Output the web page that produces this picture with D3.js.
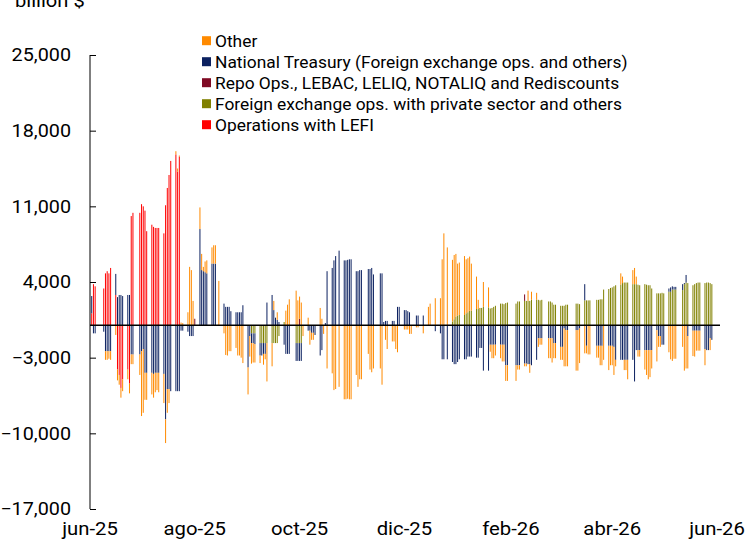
<!DOCTYPE html>
<html><head><meta charset="utf-8">
<script src="https://cdn.jsdelivr.net/npm/d3@7"></script>
<style>body{margin:0;background:#fff} svg{display:block} text{font-family:Roboto,"Liberation Sans",sans-serif;fill:#000}</style>
</head><body><svg id="c" width="749" height="544"></svg>
<script>
// ---- data ----
const seriesKeys = ["lefi","fx","repo","treasury","other"];
const seriesNames = ["Operations with LEFI","Foreign exchange ops. with private sector and others","Repo Ops., LEBAC, LELIQ, NOTALIQ and Rediscounts","National Treasury (Foreign exchange ops. and others)","Other"];
const seriesColors = ["#FF0000","#808000","#7F0A24","#0C2160","#FF8A00"];
const legendOrder = ["other","treasury","repo","fx","lefi"];
const yTicks = [25000,18000,11000,4000,-3000,-10000,-17000];
const xTickDates = ["2025-06-01","2025-08-01","2025-10-01","2025-12-01","2026-02-01","2026-04-01","2026-06-01"];
const xTickLabels = ["jun-25","ago-25","oct-25","dic-25","feb-26","abr-26","jun-26"];
const firstDay = "2025-06-02", lastDay = "2026-06-02"; // business days (Mon-Fri)

const lefi = [
1100,3800,3600,0,0,
3400,4800,5000,4800,5300,
2800,-4100,-4600,-5800,-5000,
-4100,-5400,10100,10400,0,
10400,11200,11000,10600,8700,
9300,9100,9000,9000,9000,
8500,11100,12700,13900,15200,
15800,14200,15600,0,0,
0,0,0,0,0, 0,0,0,0,0, 0,0,0,0,0, 0,0,0,0,0,
0,0,0,0,0, 0,0,0,0,0, 0,0,0,0,0, 0,0,0,0,0,
0,0,0,0,0, 0,0,0,0,0, 0,0,0,0,0, 0,0,0,0,0,
0,0,0,0,0, 0,0,0,0,0, 0,0,0,0,0, 0,0,0,0,0,
0,0,0,0,0, 0,0,0,0,0, 0,0,0,0,0, 0,0,0,0,0,
0,0,0,0,0, 0,0,0,0,0, 0,0,0,0,0, 0,0,0,0,0,
0,0,0,0,0, 0,0,0,0,0, 0,0,0,0,0, 0,0,0,0,0,
0,0,0,0,0, 0,0,0,0,0, 0,0,0,0,0, 0,0,0,0,0,
0,0,0,0,0, 0,0,0,0,0, 0,0,0,0,0, 0,0,0,0,0,
0,0,0,0,0, 0,0,0,0,0, 0,0,0,0,0, 0,0,0,0,0,
0,0,0,0,0, 0,0,0,0,0, 0,0,0,0,0, 0,0,0,0,0,
0,0];

const fx = [
0,0,0,0,0, 0,0,0,0,0, 0,0,0,0,0, 0,0,0,0,0,
0,0,0,0,0, 0,0,0,0,0, 0,0,0,0,0, 0,0,0,0,0,
0,0,0,0,0, 0,0,0,0,0, 0,0,0,0,0, 0,0,0,0,0,
0,0,0,0,0,
0,0,-750,-750,-750,
-1650,-1650,-1650,-1650,-1650,
-1650,-1650,-1650,-1650,-1000,
300,0,0,0,0,
-1650,-1650,-1650,-1650,0,
0,0,0,0,0, 0,0,0,0,0, 0,0,0,0,0, 0,0,0,0,0,
0,0,0,0,0, 0,0,0,0,0, 0,0,0,0,0, 0,0,0,0,0,
0,0,0,0,0, 0,0,0,0,0, 0,0,0,0,0, 0,0,0,0,0,
350,550,800,900,950,
950,1100,1200,1350,1350,
1500,1500,1600,1600,1700,
1650,1550,1600,1700,1800,
2000,2000,1950,2050,2100,
0,0,2000,2200,2200,
2250,2250,2250,2250,2350,
2350,2350,2300,2350,0,
2200,2200,2100,1900,1900,
1800,1800,1800,1900,1900,
0,0,2000,2000,1950,
2300,2300,2300,2300,0,
2350,2350,2400,2400,3300,
3350,3450,3500,3600,3700,
3750,3900,3950,3950,3950,
3800,3800,3800,3750,3700,
3800,3750,3700,3700,3400,
2950,2950,2950,3000,2950,
3100,3100,3300,3300,3300,
0,3250,3800,3950,3900,
3700,3800,3900,3950,3950,
3900,3950,3950,3900,3800,
0,0];

const repo = [
0,0,0,0,0, 0,0,0,0,0, 0,0,0,0,0, 0,0,0,0,0,
0,0,0,0,0, 0,0,0,0,0, 0,0,0,0,0, 0,0,0,0,0,
0,0,0,0,600,
0,0,0,0,0, 0,0,0,0,0, 0,0,0,0,0, 0,0,0,0,0,
0,0,0,0,0, 0,0,0,0,0, 0,0,0,0,0, 0,0,0,0,0,
0,0,600,0,0,
0,0,0,0,0, 0,0,0,0,0, 0,0,0,0,0, 0,0,0,0,0,
0,0,0,0,0, 0,0,0,0,0, 0,0,0,0,0, 0,0,0,0,0,
0,0,0,0,0, 0,0,0,0,0, 0,0,0,0,0, 0,0,0,0,0,
0,0,0,0,0, 0,0,0,0,0, 0,0,0,0,0, 0,0,0,0,0,
0,0,0,0,0, 0,0,0,0,0,
600,0,0,0,0,
0,0,0,0,0, 0,0,0,0,0, 0,0,0,0,0, 0,0,0,0,0,
0,0,0,0,0, 0,0,0,0,0, 0,0,0,0,0, 0,0,0,0,0,
0,0,0,0,0, 0,0,0,0,0, 0,0,0,0,0, 0,0,0,0,0,
0,0,0,0,0, 0,0,0,0,0, 0,0,0,0,0, 0,0,0,0,0,
0,550];

const treasury = [
1600,-750,-750,0,0,
-600,-2400,-2400,-2400,-2400,
1950,2600,2800,2800,2700,
2800,2800,-2700,-2700,0,
-2700,-2400,-2200,-4400,-4400,
-4400,-4500,-4400,-4400,-4400,
-4500,-8700,-5900,-5900,-6100,
-6100,-6100,-6100,-500,-500,
-600,-1000,-1000,-1000,0,
8900,5100,5000,4900,4800,
5700,5700,5700,0,0,
2000,1700,1700,1700,1300,
1200,1200,1200,1200,1850,
-3900,-1000,-900,-900,-1000,
-1150,-1150,-1000,-1000,2100,
2800,1400,700,500,300,
-1800,-2650,-2650,-2650,0,
-1650,-1650,-1650,-1650,0,
-500,-500,-700,-700,-900,
-2800,-2300,0,200,5000,
5300,6000,6400,0,6900,
6000,6000,6050,6100,6100,
5000,5000,5100,5100,0,
5200,5200,5300,4700,0,
4800,4800,300,400,400,
400,400,0,1700,1700,
1400,1400,1300,1200,0,
900,900,0,0,900,
0,0,0,0,-550,
-750,-3150,-3150,0,-3150,
-3400,-3600,-3600,-3400,-3150,
-3150,-3150,-2900,-2900,-2900,
-3000,-3000,-2100,-2100,-4200,
-4200,-1800,-1800,-1800,-1800,
-1800,-1800,-1800,-3700,-3700,
0,0,-3700,-3700,-3700,
-3550,-3550,-3600,-3600,-3700,
-3200,-1200,-1200,-1200,0,
-1200,-1200,-1200,-1650,-1650,
-2000,-2000,-300,-450,-450,
0,0,-450,-450,-300,
1500,-1900,0,0,0,
-1900,-1900,-1900,-1900,0,
-1900,-1900,-1900,-2000,-3200,
-3200,-3200,-3200,-3200,-3200,
-3200,-5200,-2300,-2300,-2300,
-2300,-2300,-2300,-2300,-2300,
-450,-1000,-1000,-1800,-1800,
300,400,300,250,250,
0,550,100,700,-1000,
-500,-500,-500,-500,-500,
-2200,-2300,-2300,-1200,-1350,
0,0];

const other = [
0,0,0,0,0,
0,-800,-800,-700,-800,
-900,-1000,-900,-900,-1100,
-900,-900,-900,-900,0,
-1900,-6000,-5900,-2500,-2500,
-2000,-2200,-1800,-1600,-1800,
-2700,-2200,-2200,-1300,0,
300,300,100,250,200,
1200,5400,5100,2250,0,
2000,1500,400,1000,1200,
1500,1700,1700,0,4100,
-750,-2750,-2800,-2400,-2400,
-2100,-2800,-2800,-3000,-3500,
-2500,-1900,-1900,-1800,-1700,
-700,0,-1000,-500,-3550,
-2150,850,0,700,0,
0,1350,1900,2400,0,
3200,2300,2050,2100,-1000,
700,-1300,-650,-650,0,
1600,600,-800,0,-4000,
-4450,-6000,-5900,0,-5700,
-6850,-6850,-6800,-6850,-6850,
-4600,-5700,-5000,-5000,0,
-2650,-4100,-4350,-4000,0,
-4000,-5500,0,-1350,-2200,
-1500,-1500,-2200,-2500,0,
-400,-400,-400,-800,-800,
-200,-200,0,0,-750,
1700,2000,0,0,2500,
2500,6100,8500,0,7200,
5700,5950,5800,4800,4850,
5450,5000,5000,5000,4350,
3000,850,0,0,2300,
1850,-650,-1250,-1250,-1000,
-1250,-1550,-1550,-1450,-1450,
0,0,-1450,-400,-400,
-250,-250,950,-800,750,
650,-800,-600,-600,0,
-1850,-1850,-2250,-1400,-1400,
-1200,-1200,-3500,-3350,-3350,
0,0,-3750,-3750,-3200,
-2600,-700,-2700,-2700,0,
-1100,-1100,-1800,-1800,-3200,
-2250,-1800,-1800,-2600,-600,
1050,600,-950,-950,-1800,
1300,1500,700,-600,-600,
-1800,-2300,-2700,-2500,-1700,
-2900,-1000,-1000,0,0,
-2500,-3150,-3300,-3100,-3100,
0,-2000,-4200,-4000,-3000,
-2350,-2400,-1850,-1850,-1850,
-1500,0,0,-1100,0,
0,0];

// ---- build ----
const parse = d3.utcParse("%Y-%m-%d");
const dates = d3.utcDay.range(parse(firstDay), d3.utcDay.offset(parse(lastDay), 1))
  .filter(d => d.getUTCDay() >= 1 && d.getUTCDay() <= 5);
const valuesByKey = {lefi, fx, repo, treasury, other};
const rows = dates.map((d, i) => {
  const r = {date: d};
  seriesKeys.forEach(k => r[k] = valuesByKey[k][i] || 0);
  return r;
});
const colorOf = Object.fromEntries(seriesKeys.map((k, i) => [k, seriesColors[i]]));
const nameOf = Object.fromEntries(seriesKeys.map((k, i) => [k, seriesNames[i]]));

const svg = d3.select("#c");
const x = d3.scaleUtc().domain([parse("2025-06-01"), parse("2026-06-01")]).range([90, 717]);
const y = d3.scaleLinear().domain([-17000, 25000]).range([509, 55]);

const stacked = d3.stack().keys(seriesKeys).offset(d3.stackOffsetDiverging)(rows);
const barW = 1.0;
svg.append("g").selectAll("g").data(stacked).join("g")
  .attr("fill", s => colorOf[s.key])
  .selectAll("rect").data(s => s.filter(p => p[0] !== p[1])).join("rect")
  .attr("x", p => x(p.data.date) - barW / 2)
  .attr("width", barW)
  .attr("y", p => y(Math.max(p[0], p[1])))
  .attr("height", p => Math.abs(y(p[0]) - y(p[1])));

// zero line
svg.append("line").attr("x1", 90).attr("x2", 720).attr("y1", y(0)).attr("y2", y(0))
  .attr("stroke", "#000").attr("stroke-width", 1.5);

// y axis
const yAxis = svg.append("g").attr("transform", "translate(90,0)")
  .call(d3.axisRight(y).tickValues(yTicks).tickSize(6).tickFormat(""));
yAxis.select(".domain").attr("d", `M0,${y(25000)}V${y(-17000)}`).attr("stroke", "#000");
yAxis.selectAll(".tick line").attr("stroke", "#000");
svg.append("g").selectAll("text").data(yTicks).join("text")
  .attr("transform", d => `translate(71,${y(d)}) scale(1.13,1)`)
  .attr("dy", "0.36em")
  .attr("text-anchor", "end").attr("font-size", 17.5)
  .text(d => d3.format(",")(d));

// x labels
svg.append("g").selectAll("text").data(xTickDates).join("text")
  .attr("transform", d => `translate(${x(parse(d))},535) scale(1.16,1)`)
  .attr("text-anchor", "middle").attr("font-size", 17.5)
  .text((d, i) => xTickLabels[i]);

// unit label
svg.append("text").attr("transform", "translate(15,7) scale(1.15,1)").attr("font-size", 17.5).text("billion $");

// legend
const lg = svg.append("g").selectAll("g").data(legendOrder).join("g")
  .attr("transform", (k, i) => `translate(202,${40.7 + i * 21})`);
lg.append("rect").attr("x", 0).attr("y", -4.5).attr("width", 9).attr("height", 9).attr("fill", k => colorOf[k]);
lg.append("text").attr("transform", "translate(13,0) scale(1.06,1)").attr("dy", "0.36em")
  .attr("font-size", 16.4).text(k => nameOf[k]);
</script></body></html>
